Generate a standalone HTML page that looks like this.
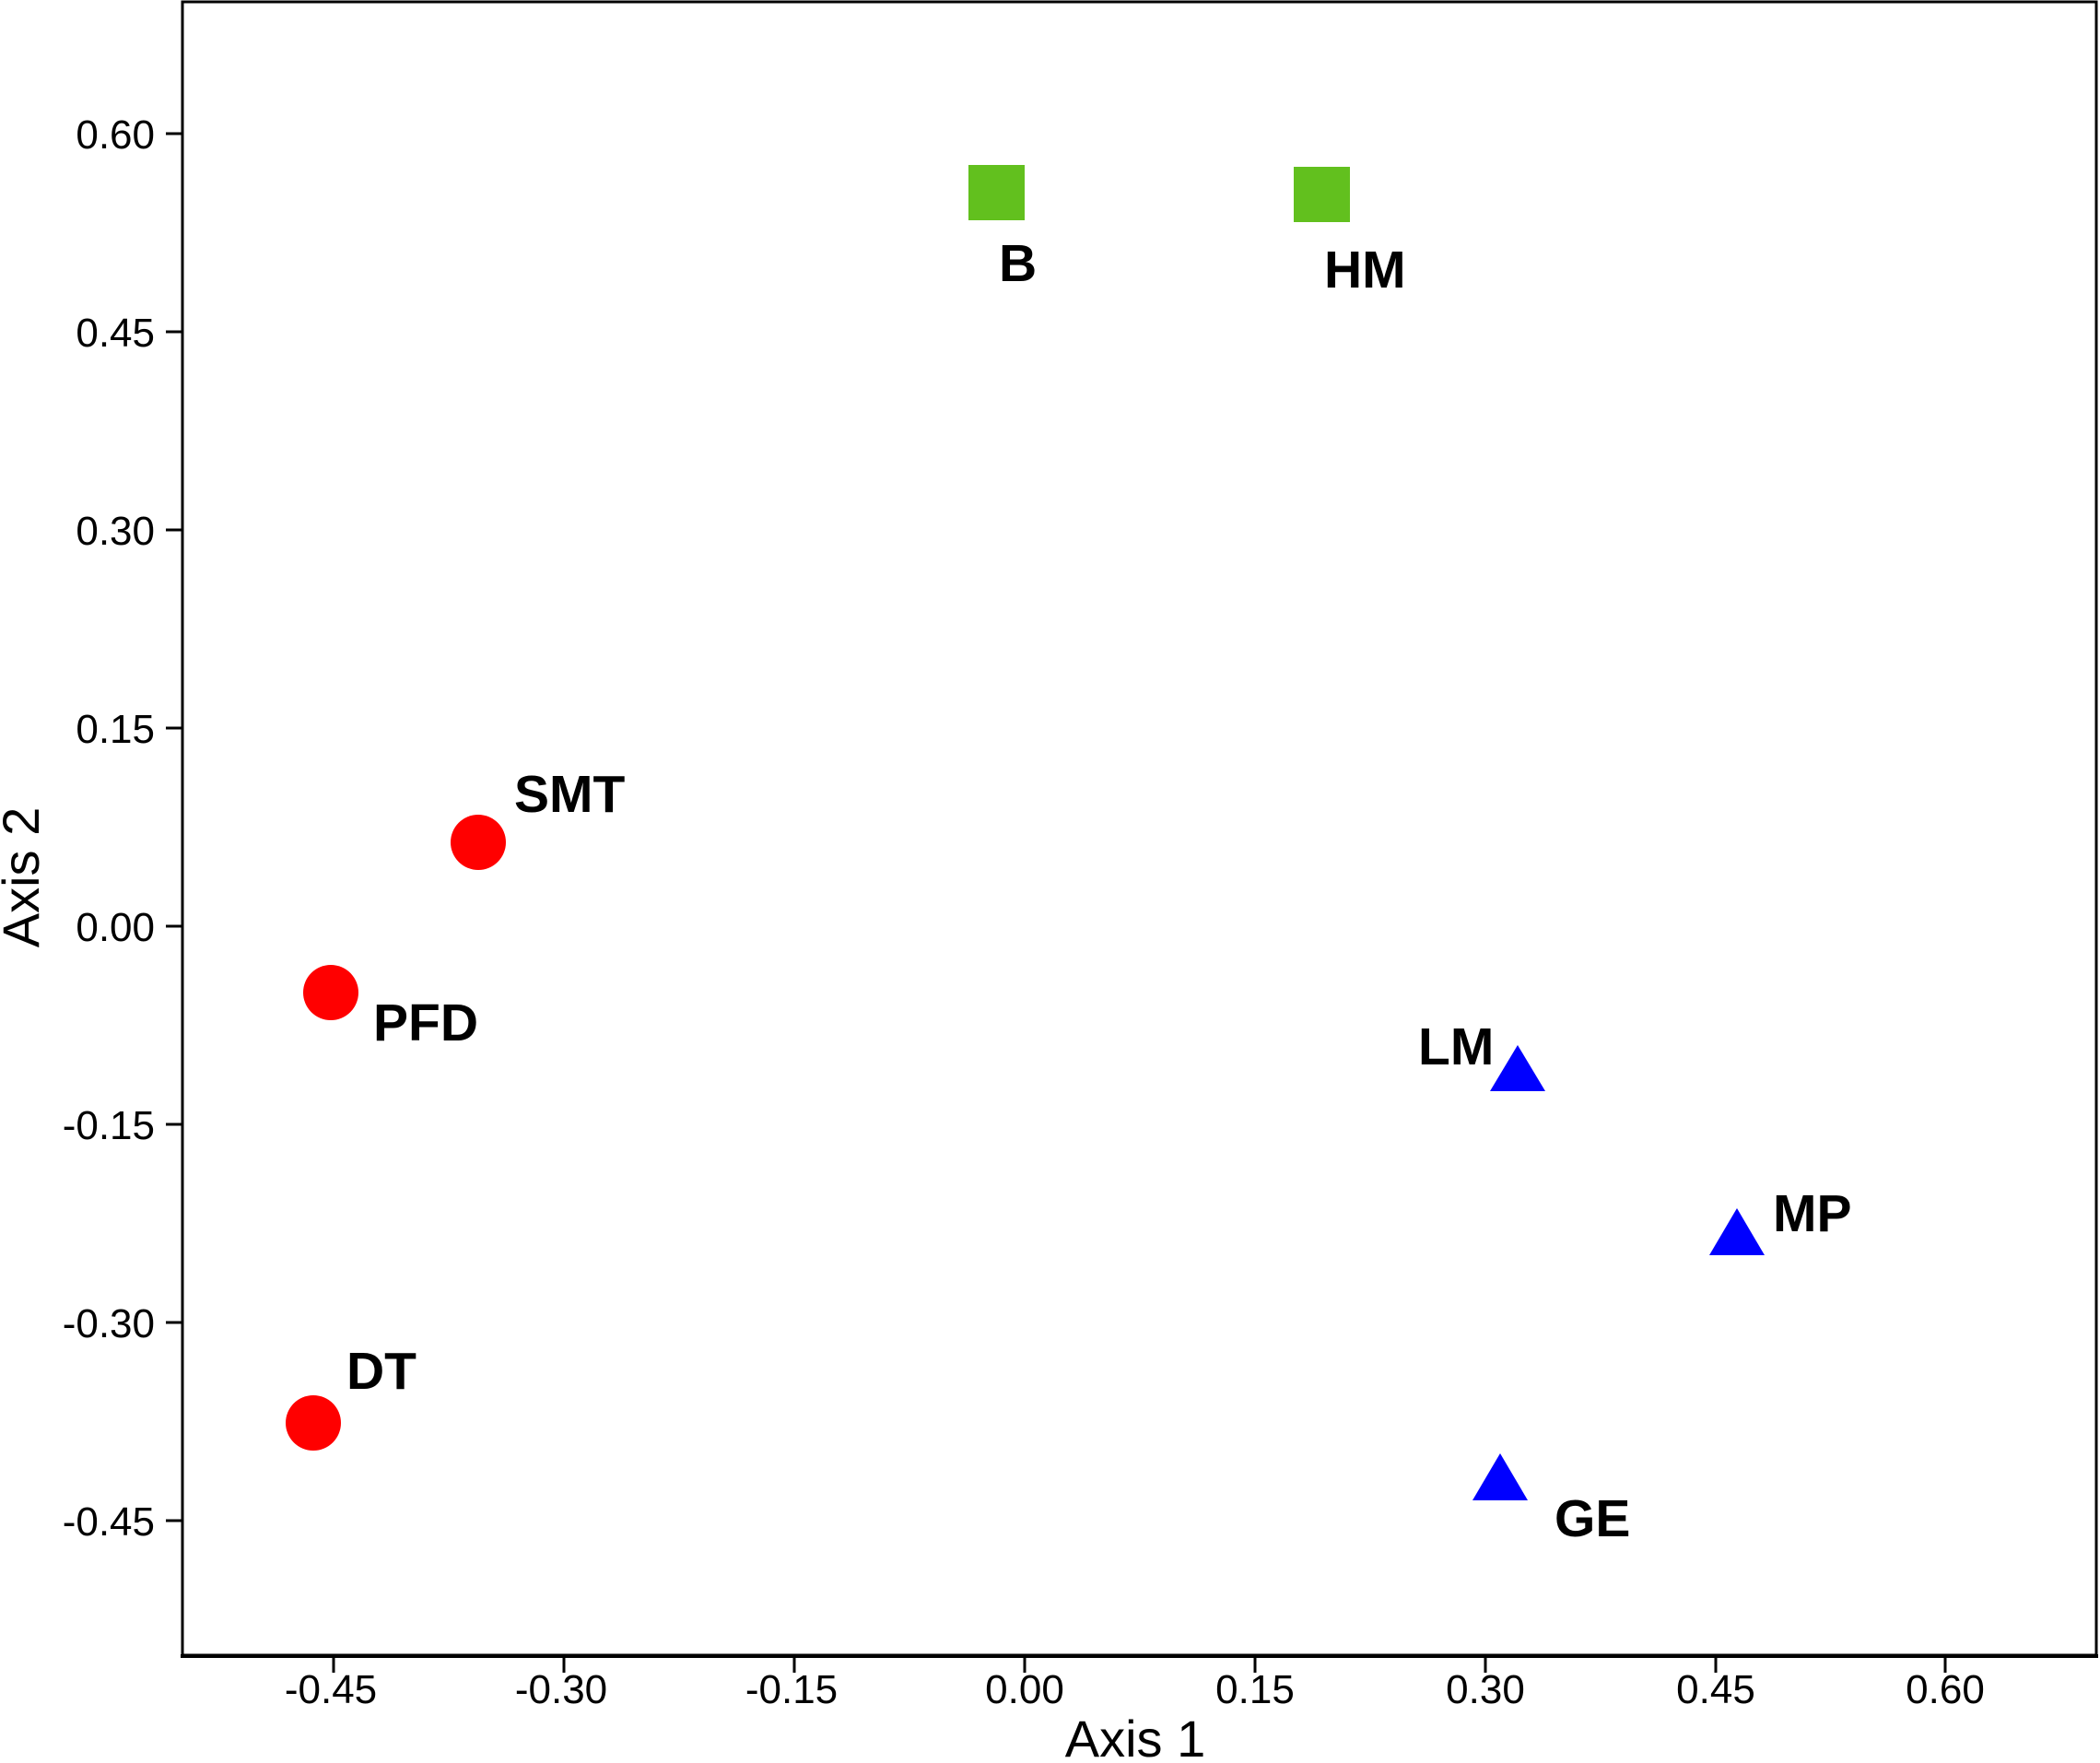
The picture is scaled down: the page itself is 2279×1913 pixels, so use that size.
<!DOCTYPE html>
<html><head><style>body{margin:0;background:#fff}svg{display:block}</style></head>
<body>
<svg width="2279" height="1913" viewBox="0 0 2279 1913" xmlns="http://www.w3.org/2000/svg" font-family="Liberation Sans, sans-serif">
<rect x="0" y="0" width="2279" height="1913" fill="#fff"/>
<rect x="198" y="2" width="2077" height="1794" fill="none" stroke="#000" stroke-width="3"/>
<line x1="196" y1="1797" x2="2277" y2="1797" stroke="#000" stroke-width="4"/>
<g stroke="#000" stroke-width="3">
<line x1="180" y1="145" x2="198" y2="145"/><line x1="180" y1="360" x2="198" y2="360"/>
<line x1="180" y1="575" x2="198" y2="575"/><line x1="180" y1="790" x2="198" y2="790"/>
<line x1="180" y1="1005" x2="198" y2="1005"/><line x1="180" y1="1220" x2="198" y2="1220"/>
<line x1="180" y1="1435" x2="198" y2="1435"/><line x1="180" y1="1650" x2="198" y2="1650"/>
<line x1="362" y1="1797" x2="362" y2="1815"/><line x1="612" y1="1797" x2="612" y2="1815"/>
<line x1="862" y1="1797" x2="862" y2="1815"/><line x1="1112" y1="1797" x2="1112" y2="1815"/>
<line x1="1362" y1="1797" x2="1362" y2="1815"/><line x1="1612" y1="1797" x2="1612" y2="1815"/>
<line x1="1862" y1="1797" x2="1862" y2="1815"/><line x1="2111" y1="1797" x2="2111" y2="1815"/>
</g>
<g font-size="44" text-anchor="end">
<text x="168" y="161">0.60</text><text x="168" y="376">0.45</text><text x="168" y="591">0.30</text>
<text x="168" y="806">0.15</text><text x="168" y="1021">0.00</text><text x="168" y="1236">-0.15</text>
<text x="168" y="1451">-0.30</text><text x="168" y="1666">-0.45</text>
</g>
<g font-size="44" text-anchor="middle">
<text x="359" y="1848">-0.45</text><text x="609" y="1848">-0.30</text><text x="859" y="1848">-0.15</text>
<text x="1112" y="1848">0.00</text><text x="1362" y="1848">0.15</text><text x="1612" y="1848">0.30</text>
<text x="1862" y="1848">0.45</text><text x="2111" y="1848">0.60</text>
</g>
<text x="1232" y="1906" font-size="56" text-anchor="middle">Axis 1</text>
<text transform="translate(42,952) rotate(-90)" font-size="56" text-anchor="middle">Axis 2</text>
<rect x="1051" y="179" width="61" height="60" fill="#62c01e"/>
<rect x="1404" y="181" width="61" height="60" fill="#62c01e"/>
<circle cx="519" cy="914" r="30" fill="#ff0000"/>
<circle cx="359" cy="1077" r="30" fill="#ff0000"/>
<circle cx="340" cy="1544" r="30" fill="#ff0000"/>
<polygon points="1647,1134 1677,1184 1617,1184" fill="#0000ff"/>
<polygon points="1885,1311 1915,1362 1855,1362" fill="#0000ff"/>
<polygon points="1628,1577 1658,1628 1598,1628" fill="#0000ff"/>
<g font-size="57" font-weight="bold">
<text x="1084" y="305">B</text><text x="1437" y="312">HM</text>
<text x="558" y="881">SMT</text><text x="405" y="1129">PFD</text>
<text x="376" y="1507">DT</text><text x="1539" y="1155">LM</text>
<text x="1924" y="1336">MP</text><text x="1687" y="1667">GE</text>
</g>
</svg>
</body></html>
